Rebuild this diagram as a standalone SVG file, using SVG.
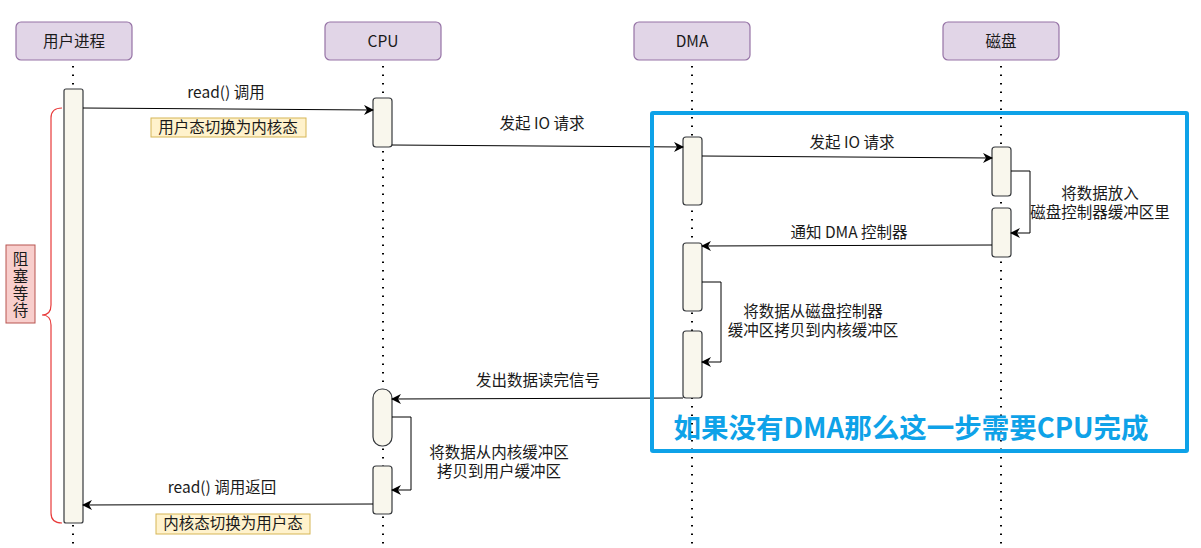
<svg xmlns="http://www.w3.org/2000/svg" width="1201" height="548" viewBox="0 0 1201 548">
<style>
.hdr{fill:#e1d5e7;stroke:#9673a6;stroke-width:1.2}
.act{fill:#f9f7ed;stroke:#36393d;stroke-width:1.2}
.life{stroke:#000;stroke-width:2;stroke-dasharray:1.5 7;fill:none}
.msg{stroke:#000;stroke-width:1;fill:none;marker-end:url(#ah)}
.t{font-family:"Noto Sans CJK SC","Noto Sans",sans-serif;font-size:15.5px;fill:#1a1a1a;text-anchor:middle}
.t2{font-family:"Liberation Sans","Noto Sans CJK SC",sans-serif;font-size:15.5px;fill:#1a1a1a;text-anchor:middle}
.note{fill:#fff2cc;stroke:#d6b656;stroke-width:1}
</style>
<defs>
<marker id="ah" markerWidth="10" markerHeight="10" refX="9" refY="5" orient="auto" markerUnits="userSpaceOnUse">
<path d="M0,0 L10,5 L0,10 L3,5 Z" fill="#000"/>
</marker>
</defs>
<rect width="1201" height="548" fill="#fff"/>

<g id="lifelines">
<line class="life" x1="73" y1="66" x2="73" y2="548"/>
<line class="life" x1="383" y1="66" x2="383" y2="548"/>
<line class="life" x1="692" y1="66" x2="692" y2="548"/>
<line class="life" x1="1001" y1="66" x2="1001" y2="548"/>
</g>

<g id="hdr-user"><rect class="hdr" x="16" y="22" width="116" height="38" rx="5"/><text class="t" x="74" y="47">用户进程</text></g>
<g id="hdr-cpu"><rect class="hdr" x="325" y="22" width="116" height="38" rx="5"/><text class="t" x="383" y="47">CPU</text></g>
<g id="hdr-dma"><rect class="hdr" x="634" y="22" width="116" height="38" rx="5"/><text class="t" x="692" y="47">DMA</text></g>
<g id="hdr-disk"><rect class="hdr" x="943" y="22" width="116" height="38" rx="5"/><text class="t" x="1001" y="47">磁盘</text></g>

<g id="act-user"><rect class="act" x="64" y="89" width="19" height="434" rx="2"/></g>
<g id="act-cpu1"><rect class="act" x="373" y="98" width="19" height="49" rx="3"/></g>
<g id="act-cpu2"><rect class="act" x="373" y="389" width="19" height="57" rx="9"/></g>
<g id="act-cpu3"><rect class="act" x="373" y="466" width="19" height="48" rx="3"/></g>
<g id="act-dma1"><rect class="act" x="683" y="137" width="19" height="68" rx="3"/></g>
<g id="act-dma2"><rect class="act" x="683" y="243" width="19" height="68" rx="3"/></g>
<g id="act-dma3"><rect class="act" x="683" y="331" width="19" height="67" rx="3"/></g>
<g id="act-disk1"><rect class="act" x="992" y="147" width="19" height="49" rx="3"/></g>
<g id="act-disk2"><rect class="act" x="992" y="208" width="19" height="49" rx="3"/></g>

<g id="connectors">
<path class="msg" d="M83,108 L373,110"/>
<path class="msg" d="M392,145 L683,147"/>
<path class="msg" d="M702,156 L992,158"/>
<path class="msg" d="M1011,171 L1030,171 L1030,233 L1011,233"/>
<path class="msg" d="M992,245 L702,246"/>
<path class="msg" d="M702,282 L721,282 L721,362 L702,362"/>
<path class="msg" d="M683,398 L392,399"/>
<path class="msg" d="M392,417 L411,417 L411,490 L392,490"/>
<path class="msg" d="M373,504 L83,505"/>
</g>

<g id="labels">
<text class="t" x="226" y="98">read() 调用</text>
<g id="note1"><rect class="note" x="151" y="118" width="155" height="19"/><text class="t" x="228" y="133">用户态切换为内核态</text></g>
<text class="t" x="542" y="129">发起 IO 请求</text>
<text class="t" x="852" y="148">发起 IO 请求</text>
<text class="t2" x="1100" y="199"><tspan x="1100">将数据放入</tspan><tspan x="1100" dy="19">磁盘控制器缓冲区里</tspan></text>
<text class="t" x="849" y="238">通知 DMA 控制器</text>
<text class="t2" x="813" y="317"><tspan x="813">将数据从磁盘控制器</tspan><tspan x="813" dy="18.5">缓冲区拷贝到内核缓冲区</tspan></text>
<text class="t" x="538" y="386">发出数据读完信号</text>
<text class="t2" x="499" y="458"><tspan x="499">将数据从内核缓冲区</tspan><tspan x="499" dy="18.5">拷贝到用户缓冲区</tspan></text>
<text class="t" x="222" y="493">read() 调用返回</text>
<g id="note2"><rect class="note" x="156" y="514" width="154" height="20"/><text class="t" x="233" y="529">内核态切换为用户态</text></g>
</g>

<g id="brace">
<path d="M62,108 Q51,108 51,118 L51,305 Q51,315 42,315 Q51,315 51,325 L51,513 Q51,523 62,523" fill="none" stroke="#e83a3a" stroke-width="1.2"/>
</g>
<g id="block-note">
<rect x="6" y="245" width="29" height="78" fill="#f8cecc" stroke="#b85450" stroke-width="1"/>
<text class="t" x="20.5" y="285" font-size="16" style="writing-mode:vertical-rl;letter-spacing:1.5px">阻塞等待</text>
</g>

<g id="dma-box">
<rect x="652" y="113" width="535" height="338" fill="none" stroke="#0ea2e8" stroke-width="4" rx="1"/>
<text x="911" y="438" font-family="'Noto Sans CJK SC','Noto Sans',sans-serif" font-size="27.5" font-weight="bold" fill="#0ea2e8" text-anchor="middle">如果没有DMA那么这一步需要CPU完成</text>
</g>
</svg>
